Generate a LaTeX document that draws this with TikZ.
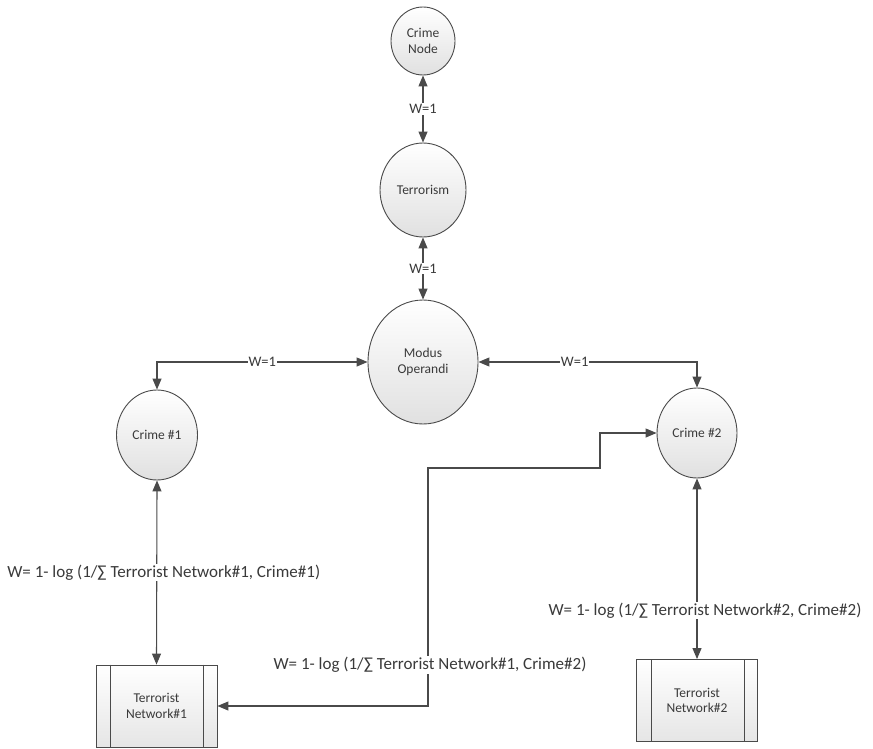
\documentclass[tikz,border=0pt]{standalone}
\usepackage{fontspec}
\setmainfont{Carlito}
\usetikzlibrary{arrows.meta,shapes.geometric}
\definecolor{edge}{HTML}{4A4A4A}
\definecolor{ink}{HTML}{3A3A3A}
\begin{document}
\begin{tikzpicture}[x=1pt,y=-1pt,
  tip/.style={Triangle[length=11pt,width=9pt]},
  conn/.style={draw=edge, line width=1.1pt, {Triangle[length=11pt,width=9pt]}-{Triangle[length=11pt,width=9pt]}},
  ball/.style={ellipse, draw=edge, line width=0.9pt, top color=white, bottom color=black!12,
    text=ink, font=\fontsize{13.5}{15.5}\selectfont, align=center, inner sep=0pt},
  process/.style={rectangle, draw=edge, line width=0.9pt, top color=white, bottom color=black!10,
    text=ink, font=\fontsize{13.5}{15.5}\selectfont, align=center, inner sep=0pt,
    minimum width=121pt, minimum height=82pt},
  weight/.style={fill=white, text=ink, font=\fontsize{14.5}{16}\selectfont, inner sep=1pt},
  formula/.style={fill=white, text=ink, font=\fontsize{17}{19}\selectfont, inner sep=1pt},
  ]
\useasboundingbox (0,0) rectangle (873,749);

% nodes
\node[ball, minimum width=64pt, minimum height=68pt]  (cn) at (423,41)  {Crime\\Node};
\node[ball, minimum width=86pt, minimum height=94pt]  (tr) at (423,190) {Terrorism};
\node[ball, minimum width=110pt, minimum height=124pt] (mo) at (423,362) {Modus\\Operandi};
\node[ball, minimum width=81pt, minimum height=90pt]  (c1) at (157,435) {Crime \#1};
\node[ball, minimum width=80pt, minimum height=90pt]  (c2) at (697,433) {Crime \#2};
\node[process] (tn1) at (156.5,706) {Terrorist\\Network\#1};
\node[process] (tn2) at (697,700.5) {Terrorist\\Network\#2};

% side bars of the process boxes
\foreach \b in {tn1,tn2}{
  \draw[edge, line width=0.9pt] ([xshift=15pt]\b.north west) -- ([xshift=15pt]\b.south west);
  \draw[edge, line width=0.9pt] ([xshift=-14pt]\b.north east) -- ([xshift=-14pt]\b.south east);
}

% bend points of the long connector
\coordinate (k1) at (428,468);
\coordinate (k2) at (600,468);

% connectors
\draw[conn] (cn) -- node[weight]{W=1} (tr);
\draw[conn] (tr) -- node[weight]{W=1} (mo);
\draw[conn] (mo.west) -| node[weight, pos=0.25]{W=1} (c1.north);
\draw[conn] (mo.east) -| node[weight, pos=0.22]{W=1} (c2.north);
\draw[conn] (c1.south) -- node[formula, pos=0.5, xshift=7pt]{W= 1- log (1/∑ Terrorist Network\#1, Crime\#1)} (tn1.north);
\draw[conn] (c2.south) -- node[formula, pos=0.73, xshift=8pt]{W= 1- log (1/∑ Terrorist Network\#2, Crime\#2)} (tn2.north);
\draw[conn] (tn1.east) -| node[formula, pos=0.586, xshift=2pt]{W= 1- log (1/∑ Terrorist Network\#1, Crime\#2)} (k1) -- (k2) |- (c2.west);
\end{tikzpicture}
\end{document}
